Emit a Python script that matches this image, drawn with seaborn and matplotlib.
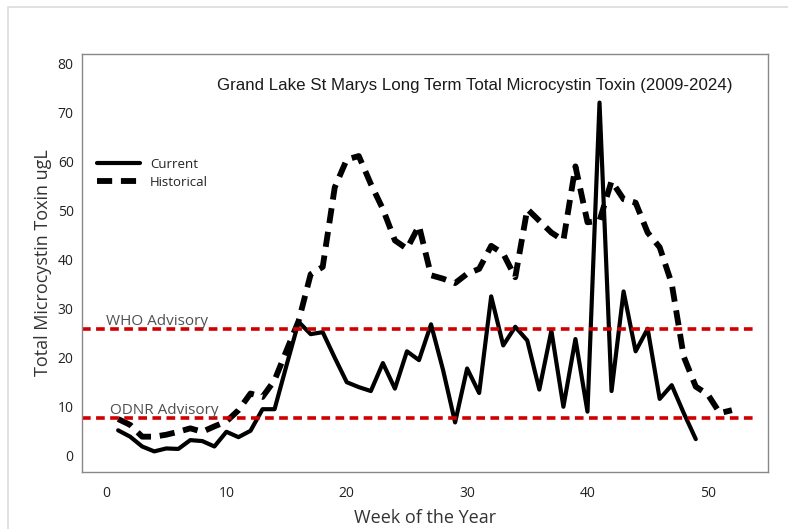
import numpy as np
import pandas as pd
import matplotlib
matplotlib.use("Agg")
import matplotlib.pyplot as plt
from matplotlib.patches import Rectangle
import seaborn as sns

# weekly values
current_weeks = list(range(1, 50))
current_toxin = [5.2, 3.9, 1.9, 0.9, 1.5, 1.4, 3.2, 3.0, 1.9, 4.9,
                 3.8, 5.1, 9.5, 9.5, 18.5, 27.3, 24.8, 25.2, 20.0, 15.0,
                 14.0, 13.2, 18.9, 13.7, 21.3, 19.5, 26.8, 17.5, 6.8, 17.8,
                 12.8, 32.5, 22.5, 26.3, 23.5, 13.5, 25.5, 10.0, 23.8, 9.0,
                 72.0, 13.2, 33.5, 21.3, 25.9, 11.6, 14.4, 8.7, 3.4]

hist_weeks = list(range(1, 53))
hist_toxin = [7.5, 6.3, 3.9, 3.9, 4.3, 4.9, 5.6, 4.9, 6.0, 7.0,
              9.3, 12.7, 12.0, 15.4, 21.5, 27.5, 37.0, 38.5, 54.7, 60.4,
              61.1, 55.4, 50.3, 43.9, 42.2, 46.9, 36.8, 36.1, 35.2, 37.1,
              38.1, 42.8, 41.2, 36.4, 50.3, 47.9, 45.5, 43.9, 59.0, 47.6,
              47.9, 56.0, 52.3, 51.6, 45.5, 42.5, 35.1, 20.2, 14.1, 12.5,
              8.7, 9.3]

who_advisory = 25.8
odnr_advisory = 7.7

df_cur = pd.DataFrame({"week": current_weeks, "toxin": current_toxin})
df_hist = pd.DataFrame({"week": hist_weeks, "toxin": hist_toxin})

sns.set_style("white")
plt.rcParams["font.family"] = ["Open Sans", "DejaVu Sans"]

fig = plt.figure(figsize=(7.88, 5.29), dpi=100)
ax = fig.add_axes([82 / 788, 1 - 472 / 529, 686 / 788, 418 / 529])

# faint outer frame of the screenshot
fig.patches.append(Rectangle((8 / 788, -0.1), 1.2, 1.1 - 7 / 529, transform=fig.transFigure,
                             fill=False, edgecolor="#dcdcdc", linewidth=1.2))

sns.lineplot(data=df_cur, x="week", y="toxin", color="black", linewidth=3,
             label="Current", ax=ax)
sns.lineplot(data=df_hist, x="week", y="toxin", color="black", linewidth=4.2,
             label="Historical", ax=ax)
ax.lines[1].set_dashes([2.6, 1.5])

# advisory thresholds
for lvl in (who_advisory, odnr_advisory):
    ax.plot([-2, 54.1], [lvl, lvl], color="#d00000", linewidth=2.6, dashes=(2.4, 1.5))

ax.text(0, 26.6, "WHO Advisory", fontsize=11, color="#505050")
ax.text(0.3, 8.5, "ODNR Advisory", fontsize=11, color="#505050")
ax.text(30.6, 75.5, "Grand Lake St Marys Long Term Total Microcystin Toxin (2009-2024)",
        fontsize=12.2, family="Liberation Sans", ha="center", va="center", color="#1a1a1a")

ax.set_xlim(-2, 55)
ax.set_ylim(-3.3, 81.9)
ax.set_xticks([0, 10, 20, 30, 40, 50])
ax.set_yticks(np.arange(0, 81, 10))
ax.tick_params(axis="both", which="both", direction="out", length=3, width=0.8,
               color="#999999", labelsize=10, labelcolor="#222222", pad=3)
ax.tick_params(axis="x", length=4, pad=6)
for sp in ax.spines.values():
    sp.set_color("#888888")
    sp.set_linewidth(1.0)

ax.set_xlabel("Week of the Year", fontsize=13, color="#333333", labelpad=6)
ax.set_ylabel("Total Microcystin Toxin ugL", fontsize=13, color="#333333", labelpad=4)

leg = ax.legend(loc="upper left", bbox_to_anchor=(0.005, 0.78), frameon=False,
                fontsize=9.5, handlelength=3.2, labelspacing=0.4)
for t in leg.get_texts():
    t.set_color("#222222")

fig.savefig("out.png", dpi=100)
